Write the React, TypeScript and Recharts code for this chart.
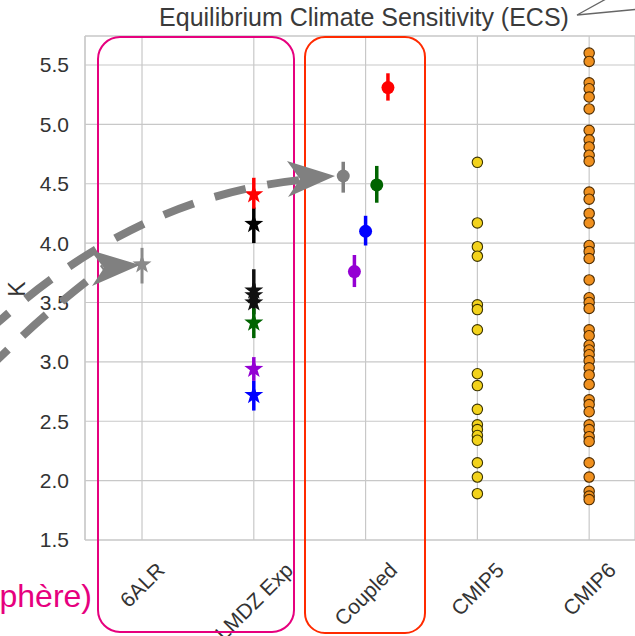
import { ScatterChart, Scatter, XAxis, YAxis, CartesianGrid, ErrorBar, ReferenceLine } from 'recharts';

const FONT = '"Liberation Sans", Arial, sans-serif';

// categories on the x axis (index = x position)
const categories = ['6ALR', 'LMDZ Exp', 'Coupled', 'CMIP5', 'CMIP6'];
const categoryTicks = [0, 1, 2, 3, 4];
const yTicks = [1.5, 2.0, 2.5, 3.0, 3.5, 4.0, 4.5, 5.0, 5.5];
const yMax = 5.744;

// 6ALR
const alrValues = [3.82];
const alrErr = [[0.16, 0.14]];
const alrColors = ['#8a8a8a'];

// LMDZ experiments (stars)
const lmdzValues = [4.16, 3.6, 3.56, 3.5, 3.33, 2.94, 2.72, 4.41];
const lmdzErr = [
  [0.16, 0.14],
  [0.14, 0.18],
  [0.1, 0.1],
  [0.1, 0.1],
  [0.13, 0.12],
  [0.1, 0.1],
  [0.13, 0.12],
  [0.12, 0.14],
];
const lmdzColors = ['#000000', '#111111', '#111111', '#111111', '#006400', '#9400d3', '#0000ff', '#ff0000'];

// coupled runs (circles, dodged)
const coupledValues = [4.565, 3.76, 4.1, 4.49, 5.31];
const coupledErr = [
  [0.14, 0.12],
  [0.13, 0.14],
  [0.12, 0.13],
  [0.15, 0.16],
  [0.11, 0.12],
];
const coupledOffsets = [-0.2, -0.1, 0, 0.1, 0.2];
const coupledColors = ['#808080', '#9400d3', '#0000ff', '#006400', '#ff0000'];

// CMIP ensembles
const cmip5Values = [4.68, 4.17, 3.97, 3.89, 3.48, 3.44, 3.27, 2.9, 2.8, 2.6, 2.47, 2.43, 2.38, 2.34, 2.15, 2.03, 1.89];
const cmip6Values = [
  5.6, 5.53, 5.35, 5.3, 5.23, 5.13, 4.95, 4.87, 4.81, 4.74, 4.69, 4.43, 4.37, 4.25, 4.17, 3.98, 3.93, 3.87,
  3.69, 3.54, 3.5, 3.45, 3.27, 3.22, 3.14, 3.1, 3.06, 3.01, 2.95, 2.89, 2.81, 2.68, 2.64, 2.58, 2.47, 2.43,
  2.37, 2.33, 2.15, 2.03, 1.91, 1.87, 1.84,
];

let ctx: CanvasRenderingContext2D | null = null;
function textWidth(t: string, size: number) {
  if (!ctx) ctx = document.createElement('canvas').getContext('2d');
  if (!ctx) return t.length * size * 0.6;
  ctx.font = `${size}px "Liberation Sans", Arial, sans-serif`;
  return ctx.measureText(t).width;
}

function StarShape(props: any) {
  const { cx, cy, fill } = props;
  if (cx == null || cy == null) return null;
  const R = 10;
  const r = 4;
  const pts: string[] = [];
  for (let i = 0; i < 10; i++) {
    const a = -Math.PI / 2 + (i * Math.PI) / 5;
    const rad = i % 2 === 0 ? R : r;
    pts.push(`${cx + rad * Math.cos(a)},${cy + rad * Math.sin(a)}`);
  }
  return <polygon points={pts.join(' ')} fill={fill} />;
}

function DotShape(props: any) {
  const { cx, cy, fill } = props;
  if (cx == null || cy == null) return null;
  return <circle cx={cx} cy={cy} r={6.5} fill={fill} />;
}

function EdgeDot(edge: string) {
  return (props: any) => {
    const { cx, cy, fill } = props;
    if (cx == null || cy == null) return null;
    return <circle cx={cx} cy={cy} r={5.2} fill={fill} stroke={edge} strokeWidth={1.1} />;
  };
}

function XTick({ x, y, payload }: any) {
  const label = categories[payload.value] ?? '';
  const L = textWidth(label, 21);
  const H = (L + 15) * Math.SQRT1_2;
  const cy = y + 19 + H / 2;
  return (
    <text
      x={0}
      y={0}
      transform={`translate(${x},${cy}) rotate(-45)`}
      textAnchor="middle"
      dominantBaseline="central"
      fontSize={21}
      fontFamily={FONT}
      fill="#333333"
    >
      {label}
    </text>
  );
}

function point(x: number, y: number, err?: number[]) {
  return [{ x, y, err }];
}

export default function App() {
  return (
    <div style={{ position: 'absolute', left: 0, top: 0, width: 635, height: 636, background: '#ffffff', overflow: 'hidden' }}>
      <ScatterChart width={635} height={636} margin={{ top: 36, right: 0, bottom: 0, left: 0 }}>
        <CartesianGrid stroke="#c8c8c8" strokeWidth={1.2} />
        <XAxis
          type="number"
          dataKey="x"
          domain={[-0.51, 4.41]}
          allowDataOverflow
          ticks={categoryTicks}
          interval={0}
          height={96}
          tickLine={false}
          tickSize={0}
          axisLine={{ stroke: '#c8c8c8', strokeWidth: 1.2 }}
          tick={<XTick />}
        />
        <YAxis
          type="number"
          dataKey="y"
          domain={[1.5, yMax]}
          allowDataOverflow
          ticks={yTicks}
          interval={0}
          width={85}
          tickLine={false}
          tickSize={0}
          tickMargin={16}
          axisLine={{ stroke: '#c8c8c8', strokeWidth: 1.2 }}
          tickFormatter={(v: number) => v.toFixed(1)}
          tick={{ fontSize: 21, fontFamily: FONT, fill: '#333333' }}
        />
        <ReferenceLine y={yMax} stroke="#c8c8c8" strokeWidth={1.2} ifOverflow="visible" />

        {cmip5Values.map((v, i) => (
          <Scatter key={`c5-${i}`} data={point(3, v)} fill="#f2d21b" shape={EdgeDot('#3b3300')} isAnimationActive={false} />
        ))}
        {cmip6Values.map((v, i) => (
          <Scatter key={`c6-${i}`} data={point(4, v)} fill="#f0901e" shape={EdgeDot('#4a2a00')} isAnimationActive={false} />
        ))}

        {alrValues.map((v, i) => (
          <Scatter key={`alr-${i}`} data={point(0, v, alrErr[i])} fill={alrColors[i]} shape={StarShape} isAnimationActive={false}>
            <ErrorBar dataKey="err" direction="y" width={0} stroke={alrColors[i]} strokeWidth={3} />
          </Scatter>
        ))}

        {lmdzValues.map((v, i) => (
          <Scatter key={`lmdz-${i}`} data={point(1, v, lmdzErr[i])} fill={lmdzColors[i]} shape={StarShape} isAnimationActive={false}>
            <ErrorBar dataKey="err" direction="y" width={0} stroke={lmdzColors[i]} strokeWidth={3.5} />
          </Scatter>
        ))}

        {coupledValues.map((v, i) => (
          <Scatter
            key={`cp-${i}`}
            data={point(2 + coupledOffsets[i], v, coupledErr[i])}
            fill={coupledColors[i]}
            shape={DotShape}
            isAnimationActive={false}
          >
            <ErrorBar dataKey="err" direction="y" width={0} stroke={coupledColors[i]} strokeWidth={3.5} />
          </Scatter>
        ))}
      </ScatterChart>

      {/* slide annotations drawn over the figure */}
      <svg width={635} height={636} style={{ position: 'absolute', left: 0, top: 0, pointerEvents: 'none' }}>
        <text x={364} y={26} textAnchor="middle" fontSize={25} fontFamily={FONT} fill="#3a3a3a">
          Equilibrium Climate Sensitivity (ECS)
        </text>
        <polyline points="606,-1 577,15 640,9" fill="none" stroke="#666666" strokeWidth={1.3} />
        <text x={0} y={0} transform="translate(25,289) rotate(-90)" textAnchor="middle" fontSize={23} fontFamily={FONT} fill="#333333">
          K
        </text>
        <text x={92} y={607} textAnchor="end" fontSize={32} fontFamily={FONT} fill="#e6007e">
          phère)
        </text>

        <rect x={98} y={37} width={196} height={595} rx={22} fill="none" stroke="#e6007e" strokeWidth={2} />
        <rect x={305} y={37} width={120} height={596} rx={20} fill="none" stroke="#ff2a00" strokeWidth={2} />

        <path d="M -15 334 C 60 265 160 195 300 180" fill="none" stroke="#808080" strokeWidth={8} strokeDasharray="32 22" />
        <polygon points="335,176 287,161 300,179 288,197" fill="#808080" />
        <path d="M -15 372 Q 45 312 104 268" fill="none" stroke="#808080" strokeWidth={8} strokeDasharray="32 20" />
        <polygon points="140,265 90,250 104,268 92,286" fill="#808080" />
      </svg>
    </div>
  );
}
